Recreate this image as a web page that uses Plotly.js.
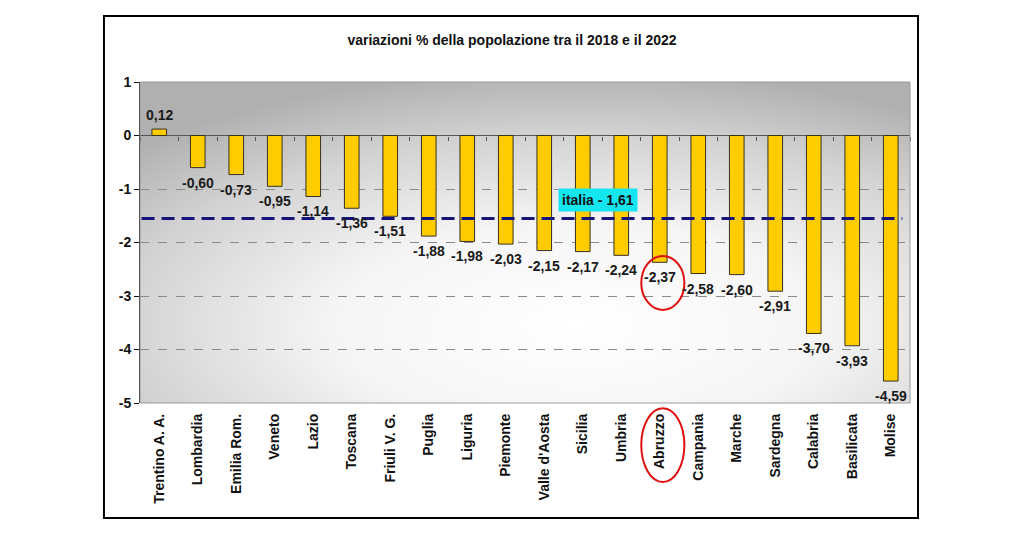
<!DOCTYPE html>
<html>
<head>
<meta charset="utf-8">
<script src="https://cdn.plot.ly/plotly-3.0.1.min.js"></script>
<style>html,body{margin:0;padding:0;background:#fff;}#chart{width:1024px;height:542px;}</style>
</head>
<body>
<div id="chart"></div>
<script>
const regions = ["Trentino A. A.","Lombardia","Emilia Rom.","Veneto","Lazio","Toscana","Friuli V. G.","Puglia","Liguria","Piemonte","Valle d'Aosta","Sicilia","Umbria","Abruzzo","Campania","Marche","Sardegna","Calabria","Basilicata","Molise"];
const variations = [0.12,-0.60,-0.73,-0.95,-1.14,-1.36,-1.51,-1.88,-1.98,-2.03,-2.15,-2.17,-2.24,-2.37,-2.58,-2.60,-2.91,-3.70,-3.93,-4.59];
const italiaValue = -1.61;      // value written in the label
const italiaLineLevel = -1.55;  // level where the dashed line is drawn in the picture
const highlighted = "Abruzzo";
const yTicks = [1,0,-1,-2,-3,-4,-5];

const FONT = 'Liberation Sans, Arial, sans-serif';
const fmt = v => v.toFixed(2).replace('.', ',');
const hi = regions.indexOf(highlighted);

const bg = "<svg xmlns='http://www.w3.org/2000/svg' width='770' height='321' preserveAspectRatio='none'>" +
  "<defs><radialGradient id='g' cx='0.57' cy='0.76' r='0.8'>" +
  "<stop offset='0' stop-color='#ffffff'/><stop offset='0.4' stop-color='#f5f5f5'/>" +
  "<stop offset='0.75' stop-color='#d2d2d2'/><stop offset='1' stop-color='#b0b0b0'/>" +
  "</radialGradient></defs><rect width='770' height='321' fill='url(#g)'/></svg>";

const traces = [
  {
    type: 'bar', x: regions, y: variations,
    width: 0.38,
    marker: {color: '#FFCC00', line: {color: '#3a3020', width: 1}},
    hoverinfo: 'x+y', showlegend: false
  },
  {
    type: 'scatter', mode: 'markers', x: regions, y: regions.map(() => null),
    xaxis: 'x2', hoverinfo: 'skip', showlegend: false
  }
];

const barLabels = variations.map((v, i) => ({
  text: '<b>' + fmt(v) + '</b>',
  xref: 'x', yref: 'y', x: regions[i], y: v,
  xanchor: 'center', yanchor: v >= 0 ? 'bottom' : 'top',
  yshift: v >= 0 ? 4 : -5,
  showarrow: false,
  font: {family: FONT, size: 14, color: '#1a1a1a'}
}));

const layout = {
  width: 1024, height: 542,
  margin: {l: 140, r: 114, t: 82, b: 139},
  paper_bgcolor: '#ffffff', plot_bgcolor: 'rgba(0,0,0,0)',
  font: {family: FONT, size: 14, color: '#111'},
  title: {
    text: 'variazioni % della popolazione tra il 2018 e il 2022',
    font: {family: FONT, size: 14, color: '#111', weight: 'bold'},
    x: 0.5, xanchor: 'center', y: 1 - 40/542, yref: 'container', yanchor: 'middle'
  },
  xaxis: {
    type: 'category', range: [-0.5, regions.length - 0.5],
    tickangle: -90, ticks: '', showgrid: false, showline: false, zeroline: false,
    ticklabelstandoff: 7,
    tickfont: {family: FONT, size: 14, color: '#111', weight: 'bold'},
    fixedrange: true
  },
  xaxis2: {
    type: 'category', categoryarray: regions, categoryorder: 'array',
    range: [-0.5, regions.length - 0.5], overlaying: 'x', anchor: 'free',
    position: (0 - yTicks[yTicks.length-1]) / (yTicks[0] - yTicks[yTicks.length-1]),
    side: 'bottom', showticklabels: false, ticks: 'outside', tickson: 'boundaries',
    ticklen: 4, tickcolor: '#555', showgrid: false, showline: false, zeroline: false
  },
  yaxis: {
    range: [yTicks[yTicks.length-1], yTicks[0]], tickvals: yTicks, ticktext: yTicks.map(String),
    ticks: 'outside', ticklen: 5, tickcolor: '#111',
    showline: true, linecolor: '#111', linewidth: 1,
    showgrid: true, gridcolor: '#8a8a8a', griddash: 'dash', gridwidth: 1,
    zeroline: true, zerolinecolor: '#555', zerolinewidth: 1,
    tickfont: {family: FONT, size: 14, color: '#111', weight: 'bold'},
    fixedrange: true
  },
  images: [{
    source: 'data:image/svg+xml;charset=utf-8,' + encodeURIComponent(bg),
    xref: 'paper', yref: 'paper', x: 0, y: 1, sizex: 1, sizey: 1,
    sizing: 'stretch', xanchor: 'left', yanchor: 'top', layer: 'below'
  }],
  annotations: barLabels.concat([{
    text: '<b>italia - ' + fmt(Math.abs(italiaValue)) + '</b>',
    xref: 'paper', yref: 'y', x: 0.595, y: -1.2,
    showarrow: false, bgcolor: '#14e6f0', borderpad: 3,
    font: {family: FONT, size: 14, color: '#111'}
  }]),
  shapes: [
    {type: 'line', xref: 'paper', yref: 'y', x0: 0.002, x1: 0.99, y0: italiaLineLevel, y1: italiaLineLevel,
     line: {color: '#14147a', width: 3, dash: '13px,7px'}, layer: 'above'},
    {type: 'rect', xref: 'paper', yref: 'paper', x0: 0, x1: 1, y0: 0, y1: 1,
     line: {color: '#9a9a9a', width: 1}, layer: 'above'},
    {type: 'rect', xref: 'paper', yref: 'paper', x0: -0.0468, x1: 1.0104, y0: -0.358, y1: 1.2056,
     line: {color: '#000', width: 2}},
    {type: 'circle', xref: 'x', yref: 'y', x0: hi - 0.48, x1: hi + 0.64, y0: -2.25, y1: -3.26,
     line: {color: '#e01010', width: 2}},
    {type: 'circle', xref: 'x', yref: 'paper', x0: hi - 0.48, x1: hi + 0.64, y0: -0.016, y1: -0.246,
     line: {color: '#e01010', width: 2}}
  ]
};

Plotly.newPlot('chart', traces, layout, {displayModeBar: false, staticPlot: true});
</script>
</body>
</html>
